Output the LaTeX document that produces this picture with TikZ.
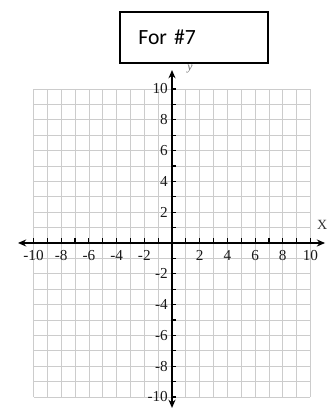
\documentclass[tikz,border=0pt]{standalone}
\usepackage{fontspec}
\setmainfont{Liberation Serif}
\newfontfamily\boxfont{Carlito}
\usepackage{tikz}
\usetikzlibrary{arrows.meta, positioning}
\tikzset{
    gridline/.style={gray!40, line width=0.6pt},
    axisline/.style={-{Stealth[length=7pt, width=6pt]}, line width=1.4pt},
    ticklabel/.style={font=\fontsize{13}{13}\selectfont, text=black!90, inner sep=1pt},
}

\begin{document}
\begin{tikzpicture}[x=0.4155cm, y=0.462cm]

    \useasboundingbox (-12.42, -10.91) rectangle (11.84, 15.78);

    % Grid
    \foreach \i in {-10,...,10} {
        \draw[gridline] (\i, -10) -- (\i, 10);
        \draw[gridline] (-10, \i) -- (10, \i);
    }

    % Axes
    \coordinate (xl) at (-11.12, 0);
    \coordinate (xr) at (11.05, 0);
    \coordinate (yb) at (0, -10.71);
    \coordinate (yt) at (0, 11.23);
    \draw[axisline] (0, 0) -- (xr);
    \draw[axisline] (0, 0) -- (xl);
    \draw[axisline] (0, 0) -- (yt);
    \draw[axisline] (0, 0) -- (yb);

    % Tick marks
    \foreach \i in {-10,...,-1,1,2,...,10} {
        \draw[line width=1pt] (\i, 0) -- (\i, 0.32);
        \draw[line width=1pt] (0, \i) -- (0.32, \i);
    }

    % Tick labels
    \foreach \x in {-10,-8,-6,-4,-2,2,4,6,8,10}
        \node[ticklabel] (xlab\x) at (\x, -0.8) {\x};
    \foreach \y in {-10,-8,-6,-4,-2,2,4,6,8,10}
        \node[ticklabel, anchor=east] (ylab\y) at (-0.2, \y) {\y};

    % Axis names
    \node[font=\large, text=black!80] (xname) at (10.85, 1.15) {X};
    \node[font=\itshape, text=black!60] (yname) at (1.3, 11.3) {y};

    % Title box
    \node[draw, line width=0.9pt, minimum width=4.44cm, minimum height=1.53cm,
          text width=3.34cm, inner xsep=0.55cm, align=left,
          font=\boxfont\fontsize{18.5}{18.5}\selectfont] (title) at (1.59, 13.345) {For \#7};

\end{tikzpicture}
\end{document}
